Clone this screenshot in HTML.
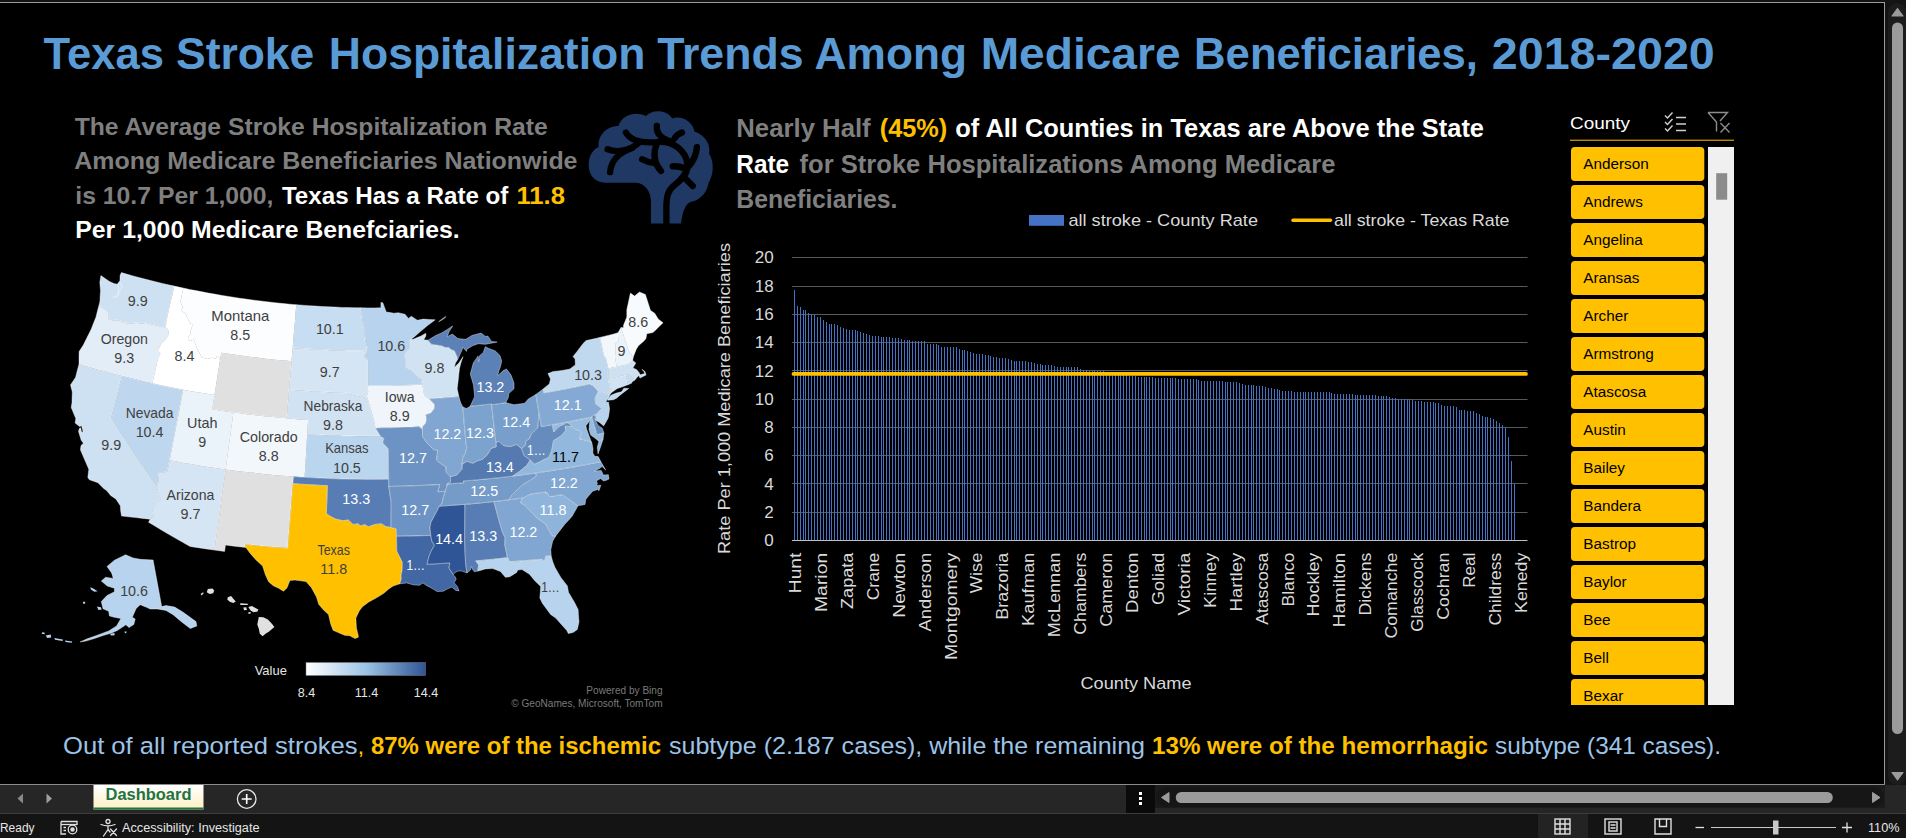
<!DOCTYPE html><html><head><meta charset="utf-8"><title>Dashboard</title><style>html,body{margin:0;padding:0;background:#000;overflow:hidden}svg{display:block}text{font-family:"Liberation Sans",sans-serif}</style></head><body><svg width="1906" height="838" viewBox="0 0 1906 838" font-family="Liberation Sans, sans-serif"><rect x="0" y="0" width="1906" height="838" fill="#000"/>
<rect x="0" y="0" width="1906" height="2" fill="#141414"/>
<rect x="0" y="2" width="1885" height="1" fill="#9a9a9a"/>
<rect x="1884" y="2" width="1" height="783" fill="#9a9a9a"/>
<rect x="1885" y="0" width="21" height="785" fill="#141414"/>
<rect x="1888" y="3" width="18" height="782" rx="9" fill="#1c1c1c"/>
<rect x="1892" y="22.5" width="11" height="711.5" rx="5.5" fill="#9b9b9b"/>
<path d="M1897.5,8.5 L1903,16 L1892,16 Z" fill="#9b9b9b" stroke="#9b9b9b" stroke-width="1.2" stroke-linejoin="round"/>
<path d="M1892,772.5 L1903,772.5 L1897.5,780 Z" fill="#9b9b9b" stroke="#9b9b9b" stroke-width="1.2" stroke-linejoin="round"/>
<rect x="0" y="785" width="1906" height="28" fill="#262626"/>
<rect x="0" y="784" width="1885" height="1" fill="#8c8c8c"/>
<rect x="0" y="813" width="1906" height="25" fill="#141414"/>
<rect x="0" y="813" width="1906" height="1" fill="#3c3c3c"/>
<path d="M17.5,798.5 L23,793.5 L23,803.5 Z" fill="#8a8a8a"/>
<path d="M52,798.5 L46.5,793.5 L46.5,803.5 Z" fill="#a0a0a0"/>
<defs><linearGradient id="tabg" x1="0" y1="0" x2="0" y2="1"><stop offset="0" stop-color="#ffffff"/><stop offset="1" stop-color="#fff0c2"/></linearGradient></defs>
<rect x="93.5" y="785" width="110" height="24.5" fill="url(#tabg)"/>
<rect x="93.5" y="807.5" width="110" height="2" fill="#217346"/>
<text x="148.5" y="800.4" font-size="16.2" fill="#217346" font-weight="bold" text-anchor="middle" textLength="86.0" lengthAdjust="spacingAndGlyphs" >Dashboard</text>
<circle cx="246.7" cy="799" r="9.3" fill="none" stroke="#e8e8e8" stroke-width="1.3"/>
<path d="M241.7,799 H251.7 M246.7,794 V804" stroke="#fff" stroke-width="1.6"/>
<rect x="1126" y="785" width="29" height="28" fill="#0a0a0a"/>
<rect x="1139" y="792" width="3" height="3" fill="#fff"/>
<rect x="1139" y="797" width="3" height="3" fill="#fff"/>
<rect x="1139" y="802" width="3" height="3" fill="#fff"/>
<rect x="1155" y="785" width="730" height="23" fill="#1b1b1b"/>
<rect x="1156" y="787" width="728" height="20" rx="10" fill="#161616"/>
<rect x="1175.8" y="792" width="657" height="11" rx="5.5" fill="#9b9b9b"/>
<path d="M1161.5,797.5 L1169,792.5 L1169,802.5 Z" fill="#9b9b9b" stroke="#9b9b9b" stroke-width="1" stroke-linejoin="round"/>
<path d="M1880,797.5 L1872.5,792.5 L1872.5,802.5 Z" fill="#9b9b9b" stroke="#9b9b9b" stroke-width="1" stroke-linejoin="round"/>
<text x="0.0" y="831.6" font-size="12.3" fill="#e6e6e6" font-weight="normal" text-anchor="start" textLength="34.5" lengthAdjust="spacingAndGlyphs" >Ready</text>
<g stroke="#e0e0e0" stroke-width="1.3" fill="none"><path d="M61,821.5 H77 V825 M61,821.5 V834 H66"/><path d="M61,824.5 H77"/><circle cx="72.5" cy="829.5" r="4.3"/><circle cx="72.5" cy="829.5" r="1.6" fill="#e0e0e0"/><path d="M63.5,827.5 H66 M63.5,830.5 H66"/></g>
<g stroke="#e0e0e0" stroke-width="1.3" fill="none" stroke-linecap="round"><circle cx="108" cy="821.5" r="2"/><path d="M101,824.5 C105,826 111,826 115,824.5 M108,826 V829.5 M108,829.5 L103.5,836 M108,829.5 L110,832"/><path d="M110.5,829 L116.5,835.5 M116.5,829 L110.5,835.5"/></g>
<text x="122.0" y="831.6" font-size="12.3" fill="#e6e6e6" font-weight="normal" text-anchor="start" textLength="137.5" lengthAdjust="spacingAndGlyphs" >Accessibility: Investigate</text>
<rect x="1538" y="814" width="50" height="24" fill="#232323"/>
<g stroke="#e0e0e0" stroke-width="1.4" fill="none"><rect x="1555" y="819" width="15" height="15"/><path d="M1560,819 V834 M1565,819 V834 M1555,824 H1570 M1555,829 H1570"/></g>
<g stroke="#e0e0e0" stroke-width="1.4" fill="none"><rect x="1605" y="819" width="16" height="15"/><rect x="1609" y="822" width="8" height="9"/><path d="M1610.5,825 H1615.5 M1610.5,828 H1615.5"/></g>
<g stroke="#e0e0e0" stroke-width="1.4" fill="none"><path d="M1655,819 H1671 V834 H1655 Z M1659.5,819 V826.5 H1666.5 V819"/></g>
<path d="M1695.5,827.5 H1704" stroke="#e0e0e0" stroke-width="1.3"/>
<path d="M1711,827.5 H1836" stroke="#c8c8c8" stroke-width="1"/>
<rect x="1773" y="820.5" width="5.5" height="14" fill="#c8c8c8"/>
<path d="M1842,827.5 H1852 M1847,822.5 V832.5" stroke="#e0e0e0" stroke-width="1.3"/>
<text x="1868.0" y="831.6" font-size="12.3" fill="#e6e6e6" font-weight="normal" text-anchor="start" textLength="31.5" lengthAdjust="spacingAndGlyphs" >110%</text>
<text x="43.5" y="69.0" font-size="44.5" fill="#5b9bd5" font-weight="bold" text-anchor="start" textLength="120.4" lengthAdjust="spacingAndGlyphs" >Texas</text>
<text x="176.0" y="69.0" font-size="44.5" fill="#5b9bd5" font-weight="bold" text-anchor="start" textLength="138.3" lengthAdjust="spacingAndGlyphs" >Stroke</text>
<text x="328.8" y="69.0" font-size="44.5" fill="#5b9bd5" font-weight="bold" text-anchor="start" textLength="316.6" lengthAdjust="spacingAndGlyphs" >Hospitalization</text>
<text x="657.2" y="69.0" font-size="44.5" fill="#5b9bd5" font-weight="bold" text-anchor="start" textLength="146.4" lengthAdjust="spacingAndGlyphs" >Trends</text>
<text x="814.6" y="69.0" font-size="44.5" fill="#5b9bd5" font-weight="bold" text-anchor="start" textLength="152.4" lengthAdjust="spacingAndGlyphs" >Among</text>
<text x="980.7" y="69.0" font-size="44.5" fill="#5b9bd5" font-weight="bold" text-anchor="start" textLength="199.9" lengthAdjust="spacingAndGlyphs" >Medicare</text>
<text x="1194.1" y="69.0" font-size="44.5" fill="#5b9bd5" font-weight="bold" text-anchor="start" textLength="283.9" lengthAdjust="spacingAndGlyphs" >Beneficiaries,</text>
<text x="1491.8" y="69.0" font-size="44.5" fill="#5b9bd5" font-weight="bold" text-anchor="start" textLength="223.0" lengthAdjust="spacingAndGlyphs" >2018-2020</text>
<text x="74.7" y="134.5" font-size="24.6" fill="#7f7f7f" font-weight="bold" text-anchor="start" textLength="473.0" lengthAdjust="spacingAndGlyphs" >The Average Stroke Hospitalization Rate</text>
<text x="74.3" y="169.4" font-size="24.6" fill="#7f7f7f" font-weight="bold" text-anchor="start" textLength="503.2" lengthAdjust="spacingAndGlyphs" >Among Medicare Beneficiaries Nationwide</text>
<text x="75.3" y="203.8" font-size="24.6" fill="#7f7f7f" font-weight="bold" text-anchor="start" textLength="198.2" lengthAdjust="spacingAndGlyphs" >is 10.7 Per 1,000,</text>
<text x="281.9" y="203.8" font-size="24.6" fill="#fff" font-weight="bold" text-anchor="start" textLength="226.5" lengthAdjust="spacingAndGlyphs" >Texas Has a Rate of</text>
<text x="516.5" y="203.8" font-size="24.6" fill="#ffc000" font-weight="bold" text-anchor="start" textLength="48.5" lengthAdjust="spacingAndGlyphs" >11.8</text>
<text x="75.3" y="238.2" font-size="24.6" fill="#fff" font-weight="bold" text-anchor="start" textLength="384.4" lengthAdjust="spacingAndGlyphs" >Per 1,000 Medicare Benefciaries.</text>
<g transform="translate(570,95) scale(0.167015)">
<path fill="#1f3864" d="M210,525 C150,525 110,480 112,415 C114,360 140,325 172,312 C165,245 215,185 290,185 C305,130 380,90 455,125 C490,85 580,85 612,140 C670,120 735,160 745,218 C800,235 845,290 833,352 C865,400 860,480 830,525 C820,590 770,635 720,640 C690,655 672,700 665,770 L485,770 L485,640 C485,580 450,528 395,525 Z"/>
<g fill="none" stroke="#000" stroke-width="38" stroke-linecap="round" stroke-linejoin="round">
<path d="M335,225 C360,270 420,290 520,282 C620,270 700,340 703,420 C706,470 670,505 625,540 C585,570 577,610 577,680 L577,790"/>
<path d="M520,185 C515,230 545,262 610,280"/>
<path d="M670,225 C650,232 635,245 625,262"/>
<path d="M225,325 C290,350 360,330 410,288"/>
<path d="M240,462 C245,400 290,345 372,318"/>
<path d="M522,285 C495,350 505,410 545,455"/>
<path d="M432,385 C455,398 480,405 508,408"/>
<path d="M760,312 C755,360 740,395 712,425"/>
<path d="M615,427 C640,425 665,430 690,440"/>
<path d="M690,500 C705,515 720,530 735,545"/>
</g></g>
<text x="736.3" y="136.7" font-size="25.2" fill="#7f7f7f" font-weight="bold" text-anchor="start" textLength="134.4" lengthAdjust="spacingAndGlyphs" >Nearly Half</text>
<text x="879.8" y="136.7" font-size="25.2" fill="#ffc000" font-weight="bold" text-anchor="start" textLength="67.5" lengthAdjust="spacingAndGlyphs" >(45%)</text>
<text x="955.3" y="136.7" font-size="25.2" fill="#fff" font-weight="bold" text-anchor="start" textLength="528.7" lengthAdjust="spacingAndGlyphs" >of All Counties in Texas are Above the State</text>
<text x="736.3" y="172.5" font-size="25.2" fill="#fff" font-weight="bold" text-anchor="start" textLength="52.9" lengthAdjust="spacingAndGlyphs" >Rate</text>
<text x="799.6" y="172.5" font-size="25.2" fill="#7f7f7f" font-weight="bold" text-anchor="start" textLength="535.9" lengthAdjust="spacingAndGlyphs" >for Stroke Hospitalizations Among Medicare</text>
<text x="736.3" y="208.3" font-size="25.2" fill="#7f7f7f" font-weight="bold" text-anchor="start" textLength="161.2" lengthAdjust="spacingAndGlyphs" >Beneficiaries.</text>
<rect x="1029" y="215" width="35" height="10.8" fill="#4472c4"/>
<text x="1068.4" y="225.8" font-size="17" fill="#d9d9d9" font-weight="normal" text-anchor="start" textLength="189.6" lengthAdjust="spacingAndGlyphs" >all stroke - County Rate</text>
<path d="M1293,220.3 H1330.5" stroke="#ffc000" stroke-width="3.4" stroke-linecap="round"/>
<text x="1334.0" y="225.8" font-size="17" fill="#d9d9d9" font-weight="normal" text-anchor="start" textLength="175.5" lengthAdjust="spacingAndGlyphs" >all stroke - Texas Rate</text>
<rect x="792" y="257" width="735.5" height="1" fill="#595959"/>
<rect x="792" y="286" width="735.5" height="1" fill="#595959"/>
<rect x="792" y="314" width="735.5" height="1" fill="#595959"/>
<rect x="792" y="342" width="735.5" height="1" fill="#595959"/>
<rect x="792" y="370" width="735.5" height="1" fill="#595959"/>
<rect x="792" y="399" width="735.5" height="1" fill="#595959"/>
<rect x="792" y="427" width="735.5" height="1" fill="#595959"/>
<rect x="792" y="455" width="735.5" height="1" fill="#595959"/>
<rect x="792" y="483" width="735.5" height="1" fill="#595959"/>
<rect x="792" y="512" width="735.5" height="1" fill="#595959"/>
<text x="773.6" y="546.3" font-size="17" fill="#d9d9d9" font-weight="normal" text-anchor="end" >0</text>
<text x="773.6" y="518.0" font-size="17" fill="#d9d9d9" font-weight="normal" text-anchor="end" >2</text>
<text x="773.6" y="489.7" font-size="17" fill="#d9d9d9" font-weight="normal" text-anchor="end" >4</text>
<text x="773.6" y="461.4" font-size="17" fill="#d9d9d9" font-weight="normal" text-anchor="end" >6</text>
<text x="773.6" y="433.1" font-size="17" fill="#d9d9d9" font-weight="normal" text-anchor="end" >8</text>
<text x="773.6" y="404.8" font-size="17" fill="#d9d9d9" font-weight="normal" text-anchor="end" >10</text>
<text x="773.6" y="376.5" font-size="17" fill="#d9d9d9" font-weight="normal" text-anchor="end" >12</text>
<text x="773.6" y="348.2" font-size="17" fill="#d9d9d9" font-weight="normal" text-anchor="end" >14</text>
<text x="773.6" y="319.9" font-size="17" fill="#d9d9d9" font-weight="normal" text-anchor="end" >16</text>
<text x="773.6" y="291.6" font-size="17" fill="#d9d9d9" font-weight="normal" text-anchor="end" >18</text>
<text x="773.6" y="263.3" font-size="17" fill="#d9d9d9" font-weight="normal" text-anchor="end" >20</text>
<path d="M794,289.9h1V540.4h-1ZM797,305.9h1V540.4h-1ZM800,306.9h1V540.4h-1ZM803,310.0h1V540.4h-1ZM805,310.0h1V540.4h-1ZM808,313.0h1V540.4h-1ZM811,314.0h1V540.4h-1ZM814,314.0h1V540.4h-1ZM817,317.1h1V540.4h-1ZM820,317.1h1V540.4h-1ZM823,320.2h1V540.4h-1ZM826,322.0h1V540.4h-1ZM829,323.5h1V540.4h-1ZM831,323.8h1V540.4h-1ZM834,324.0h1V540.4h-1ZM837,324.6h1V540.4h-1ZM840,326.5h1V540.4h-1ZM843,327.9h1V540.4h-1ZM846,329.2h1V540.4h-1ZM849,329.6h1V540.4h-1ZM852,330.0h1V540.4h-1ZM855,330.4h1V540.4h-1ZM857,331.1h1V540.4h-1ZM860,332.0h1V540.4h-1ZM863,333.0h1V540.4h-1ZM866,333.9h1V540.4h-1ZM869,334.9h1V540.4h-1ZM872,335.7h1V540.4h-1ZM875,336.0h1V540.4h-1ZM878,336.4h1V540.4h-1ZM881,336.7h1V540.4h-1ZM883,337.0h1V540.4h-1ZM886,337.2h1V540.4h-1ZM889,337.4h1V540.4h-1ZM892,337.6h1V540.4h-1ZM895,337.8h1V540.4h-1ZM898,338.0h1V540.4h-1ZM901,339.0h1V540.4h-1ZM904,340.1h1V540.4h-1ZM907,340.2h1V540.4h-1ZM909,340.3h1V540.4h-1ZM912,340.5h1V540.4h-1ZM915,340.6h1V540.4h-1ZM918,340.8h1V540.4h-1ZM921,340.9h1V540.4h-1ZM924,341.3h1V540.4h-1ZM927,343.7h1V540.4h-1ZM930,344.2h1V540.4h-1ZM933,344.2h1V540.4h-1ZM936,344.3h1V540.4h-1ZM938,345.3h1V540.4h-1ZM941,346.8h1V540.4h-1ZM944,346.9h1V540.4h-1ZM947,347.0h1V540.4h-1ZM950,347.2h1V540.4h-1ZM953,347.3h1V540.4h-1ZM956,347.4h1V540.4h-1ZM959,348.5h1V540.4h-1ZM962,349.9h1V540.4h-1ZM964,350.4h1V540.4h-1ZM967,351.0h1V540.4h-1ZM970,352.3h1V540.4h-1ZM973,353.1h1V540.4h-1ZM976,353.5h1V540.4h-1ZM979,353.8h1V540.4h-1ZM982,354.2h1V540.4h-1ZM985,354.6h1V540.4h-1ZM988,355.0h1V540.4h-1ZM990,355.8h1V540.4h-1ZM993,357.2h1V540.4h-1ZM996,357.4h1V540.4h-1ZM999,357.6h1V540.4h-1ZM1002,357.8h1V540.4h-1ZM1005,358.0h1V540.4h-1ZM1008,358.6h1V540.4h-1ZM1011,360.1h1V540.4h-1ZM1014,360.8h1V540.4h-1ZM1016,360.9h1V540.4h-1ZM1019,361.0h1V540.4h-1ZM1022,361.2h1V540.4h-1ZM1025,361.4h1V540.4h-1ZM1028,361.8h1V540.4h-1ZM1031,362.3h1V540.4h-1ZM1034,363.1h1V540.4h-1ZM1037,364.1h1V540.4h-1ZM1040,364.4h1V540.4h-1ZM1042,364.6h1V540.4h-1ZM1045,364.8h1V540.4h-1ZM1048,365.0h1V540.4h-1ZM1051,365.2h1V540.4h-1ZM1054,365.9h1V540.4h-1ZM1057,367.0h1V540.4h-1ZM1060,367.1h1V540.4h-1ZM1063,367.1h1V540.4h-1ZM1066,367.1h1V540.4h-1ZM1068,367.1h1V540.4h-1ZM1071,367.1h1V540.4h-1ZM1074,367.1h1V540.4h-1ZM1077,367.1h1V540.4h-1ZM1080,369.4h1V540.4h-1ZM1083,370.4h1V540.4h-1ZM1086,370.4h1V540.4h-1ZM1089,370.5h1V540.4h-1ZM1092,370.5h1V540.4h-1ZM1094,370.6h1V540.4h-1ZM1097,370.6h1V540.4h-1ZM1100,370.7h1V540.4h-1ZM1103,370.9h1V540.4h-1ZM1106,371.5h1V540.4h-1ZM1109,372.2h1V540.4h-1ZM1112,372.8h1V540.4h-1ZM1115,373.5h1V540.4h-1ZM1118,374.1h1V540.4h-1ZM1120,374.5h1V540.4h-1ZM1123,374.8h1V540.4h-1ZM1126,375.2h1V540.4h-1ZM1129,375.5h1V540.4h-1ZM1132,375.9h1V540.4h-1ZM1135,376.2h1V540.4h-1ZM1138,376.6h1V540.4h-1ZM1141,376.9h1V540.4h-1ZM1144,377.1h1V540.4h-1ZM1146,377.2h1V540.4h-1ZM1149,377.3h1V540.4h-1ZM1152,377.4h1V540.4h-1ZM1155,377.5h1V540.4h-1ZM1158,377.6h1V540.4h-1ZM1161,377.7h1V540.4h-1ZM1164,377.8h1V540.4h-1ZM1167,377.9h1V540.4h-1ZM1170,378.0h1V540.4h-1ZM1172,378.2h1V540.4h-1ZM1175,378.3h1V540.4h-1ZM1178,378.5h1V540.4h-1ZM1181,378.6h1V540.4h-1ZM1184,378.7h1V540.4h-1ZM1187,378.9h1V540.4h-1ZM1190,379.0h1V540.4h-1ZM1193,379.1h1V540.4h-1ZM1196,379.3h1V540.4h-1ZM1198,379.9h1V540.4h-1ZM1201,381.1h1V540.4h-1ZM1204,381.1h1V540.4h-1ZM1207,381.2h1V540.4h-1ZM1210,381.2h1V540.4h-1ZM1213,381.2h1V540.4h-1ZM1216,381.3h1V540.4h-1ZM1219,381.3h1V540.4h-1ZM1222,381.4h1V540.4h-1ZM1225,381.5h1V540.4h-1ZM1227,381.6h1V540.4h-1ZM1230,381.7h1V540.4h-1ZM1233,381.9h1V540.4h-1ZM1236,382.0h1V540.4h-1ZM1239,382.9h1V540.4h-1ZM1242,384.3h1V540.4h-1ZM1245,384.5h1V540.4h-1ZM1248,384.8h1V540.4h-1ZM1251,385.0h1V540.4h-1ZM1253,385.3h1V540.4h-1ZM1256,385.5h1V540.4h-1ZM1259,385.9h1V540.4h-1ZM1262,386.2h1V540.4h-1ZM1265,386.6h1V540.4h-1ZM1268,387.5h1V540.4h-1ZM1271,388.4h1V540.4h-1ZM1274,388.8h1V540.4h-1ZM1277,389.2h1V540.4h-1ZM1279,390.0h1V540.4h-1ZM1282,391.3h1V540.4h-1ZM1285,391.3h1V540.4h-1ZM1288,391.4h1V540.4h-1ZM1291,391.4h1V540.4h-1ZM1294,391.5h1V540.4h-1ZM1297,391.5h1V540.4h-1ZM1300,391.5h1V540.4h-1ZM1303,391.6h1V540.4h-1ZM1305,391.6h1V540.4h-1ZM1308,391.7h1V540.4h-1ZM1311,391.8h1V540.4h-1ZM1314,391.8h1V540.4h-1ZM1317,391.9h1V540.4h-1ZM1320,392.0h1V540.4h-1ZM1323,392.0h1V540.4h-1ZM1326,392.1h1V540.4h-1ZM1329,392.2h1V540.4h-1ZM1331,392.5h1V540.4h-1ZM1334,394.2h1V540.4h-1ZM1337,394.3h1V540.4h-1ZM1340,394.3h1V540.4h-1ZM1343,394.3h1V540.4h-1ZM1346,394.4h1V540.4h-1ZM1349,394.4h1V540.4h-1ZM1352,394.4h1V540.4h-1ZM1355,394.5h1V540.4h-1ZM1357,394.5h1V540.4h-1ZM1360,394.6h1V540.4h-1ZM1363,394.8h1V540.4h-1ZM1366,394.9h1V540.4h-1ZM1369,395.1h1V540.4h-1ZM1372,395.2h1V540.4h-1ZM1375,395.4h1V540.4h-1ZM1378,395.6h1V540.4h-1ZM1381,395.7h1V540.4h-1ZM1383,395.9h1V540.4h-1ZM1386,396.1h1V540.4h-1ZM1389,397.4h1V540.4h-1ZM1392,398.2h1V540.4h-1ZM1395,398.3h1V540.4h-1ZM1398,398.5h1V540.4h-1ZM1401,398.7h1V540.4h-1ZM1404,398.8h1V540.4h-1ZM1407,399.0h1V540.4h-1ZM1409,399.2h1V540.4h-1ZM1412,399.8h1V540.4h-1ZM1415,401.3h1V540.4h-1ZM1418,401.4h1V540.4h-1ZM1421,401.4h1V540.4h-1ZM1424,401.5h1V540.4h-1ZM1427,401.5h1V540.4h-1ZM1430,401.6h1V540.4h-1ZM1433,402.2h1V540.4h-1ZM1435,402.7h1V540.4h-1ZM1438,403.3h1V540.4h-1ZM1441,404.6h1V540.4h-1ZM1444,405.9h1V540.4h-1ZM1447,406.2h1V540.4h-1ZM1450,406.3h1V540.4h-1ZM1453,406.3h1V540.4h-1ZM1456,407.3h1V540.4h-1ZM1459,410.2h1V540.4h-1ZM1461,410.3h1V540.4h-1ZM1464,410.4h1V540.4h-1ZM1467,410.5h1V540.4h-1ZM1470,410.6h1V540.4h-1ZM1473,411.0h1V540.4h-1ZM1476,412.7h1V540.4h-1ZM1479,414.3h1V540.4h-1ZM1482,415.7h1V540.4h-1ZM1485,416.6h1V540.4h-1ZM1487,417.3h1V540.4h-1ZM1490,417.9h1V540.4h-1ZM1493,418.6h1V540.4h-1ZM1496,421.0h1V540.4h-1ZM1499,423.2h1V540.4h-1ZM1502,424.7h1V540.4h-1ZM1505,427.8h1V540.4h-1ZM1508,437.1h1V540.4h-1ZM1511,461.2h1V540.4h-1ZM1514,483.8h1V540.4h-1Z" fill="#4472c4" shape-rendering="crispEdges"/>
<rect x="792" y="540" width="735.5" height="1" fill="#bfbfbf"/>
<path d="M793.5,373.9 H1526" stroke="#ffc000" stroke-width="3.8" stroke-linecap="round"/>
<text transform="translate(801.0,593.2) rotate(-90)" font-size="17.3" fill="#d9d9d9" textLength="40.5" lengthAdjust="spacingAndGlyphs">Hunt</text>
<text transform="translate(826.9,612.1) rotate(-90)" font-size="17.3" fill="#d9d9d9" textLength="59.4" lengthAdjust="spacingAndGlyphs">Marion</text>
<text transform="translate(852.8,608.9) rotate(-90)" font-size="17.3" fill="#d9d9d9" textLength="56.2" lengthAdjust="spacingAndGlyphs">Zapata</text>
<text transform="translate(878.8,600.3) rotate(-90)" font-size="17.3" fill="#d9d9d9" textLength="47.6" lengthAdjust="spacingAndGlyphs">Crane</text>
<text transform="translate(904.7,617.7) rotate(-90)" font-size="17.3" fill="#d9d9d9" textLength="65.0" lengthAdjust="spacingAndGlyphs">Newton</text>
<text transform="translate(930.6,631.5) rotate(-90)" font-size="17.3" fill="#d9d9d9" textLength="78.8" lengthAdjust="spacingAndGlyphs">Anderson</text>
<text transform="translate(956.5,660.0) rotate(-90)" font-size="17.3" fill="#d9d9d9" textLength="107.3" lengthAdjust="spacingAndGlyphs">Montgomery</text>
<text transform="translate(982.4,593.2) rotate(-90)" font-size="17.3" fill="#d9d9d9" textLength="40.5" lengthAdjust="spacingAndGlyphs">Wise</text>
<text transform="translate(1008.4,619.7) rotate(-90)" font-size="17.3" fill="#d9d9d9" textLength="67.0" lengthAdjust="spacingAndGlyphs">Brazoria</text>
<text transform="translate(1034.3,626.0) rotate(-90)" font-size="17.3" fill="#d9d9d9" textLength="73.3" lengthAdjust="spacingAndGlyphs">Kaufman</text>
<text transform="translate(1060.2,637.3) rotate(-90)" font-size="17.3" fill="#d9d9d9" textLength="84.6" lengthAdjust="spacingAndGlyphs">McLennan</text>
<text transform="translate(1086.1,634.8) rotate(-90)" font-size="17.3" fill="#d9d9d9" textLength="82.1" lengthAdjust="spacingAndGlyphs">Chambers</text>
<text transform="translate(1112.0,626.7) rotate(-90)" font-size="17.3" fill="#d9d9d9" textLength="74.0" lengthAdjust="spacingAndGlyphs">Cameron</text>
<text transform="translate(1138.0,612.9) rotate(-90)" font-size="17.3" fill="#d9d9d9" textLength="60.2" lengthAdjust="spacingAndGlyphs">Denton</text>
<text transform="translate(1163.9,605.1) rotate(-90)" font-size="17.3" fill="#d9d9d9" textLength="52.4" lengthAdjust="spacingAndGlyphs">Goliad</text>
<text transform="translate(1189.8,615.4) rotate(-90)" font-size="17.3" fill="#d9d9d9" textLength="62.7" lengthAdjust="spacingAndGlyphs">Victoria</text>
<text transform="translate(1215.7,607.9) rotate(-90)" font-size="17.3" fill="#d9d9d9" textLength="55.2" lengthAdjust="spacingAndGlyphs">Kinney</text>
<text transform="translate(1241.6,611.4) rotate(-90)" font-size="17.3" fill="#d9d9d9" textLength="58.7" lengthAdjust="spacingAndGlyphs">Hartley</text>
<text transform="translate(1267.6,624.7) rotate(-90)" font-size="17.3" fill="#d9d9d9" textLength="72.0" lengthAdjust="spacingAndGlyphs">Atascosa</text>
<text transform="translate(1293.5,606.6) rotate(-90)" font-size="17.3" fill="#d9d9d9" textLength="53.9" lengthAdjust="spacingAndGlyphs">Blanco</text>
<text transform="translate(1319.4,616.4) rotate(-90)" font-size="17.3" fill="#d9d9d9" textLength="63.7" lengthAdjust="spacingAndGlyphs">Hockley</text>
<text transform="translate(1345.3,627.2) rotate(-90)" font-size="17.3" fill="#d9d9d9" textLength="74.5" lengthAdjust="spacingAndGlyphs">Hamilton</text>
<text transform="translate(1371.2,615.4) rotate(-90)" font-size="17.3" fill="#d9d9d9" textLength="62.7" lengthAdjust="spacingAndGlyphs">Dickens</text>
<text transform="translate(1397.2,638.6) rotate(-90)" font-size="17.3" fill="#d9d9d9" textLength="85.9" lengthAdjust="spacingAndGlyphs">Comanche</text>
<text transform="translate(1423.1,631.8) rotate(-90)" font-size="17.3" fill="#d9d9d9" textLength="79.1" lengthAdjust="spacingAndGlyphs">Glasscock</text>
<text transform="translate(1449.0,619.7) rotate(-90)" font-size="17.3" fill="#d9d9d9" textLength="67.0" lengthAdjust="spacingAndGlyphs">Cochran</text>
<text transform="translate(1474.9,587.7) rotate(-90)" font-size="17.3" fill="#d9d9d9" textLength="35.0" lengthAdjust="spacingAndGlyphs">Real</text>
<text transform="translate(1500.8,625.5) rotate(-90)" font-size="17.3" fill="#d9d9d9" textLength="72.8" lengthAdjust="spacingAndGlyphs">Childress</text>
<text transform="translate(1526.8,612.9) rotate(-90)" font-size="17.3" fill="#d9d9d9" textLength="60.2" lengthAdjust="spacingAndGlyphs">Kenedy</text>
<text transform="translate(729.7,398.5) rotate(-90)" font-size="17" fill="#d9d9d9" text-anchor="middle" textLength="311" lengthAdjust="spacingAndGlyphs">Rate Per 1,000 Medicare Beneficiaries</text>
<text x="1136.0" y="688.5" font-size="17" fill="#d9d9d9" font-weight="normal" text-anchor="middle" textLength="111.0" lengthAdjust="spacingAndGlyphs" >County Name</text>
<text x="1570.0" y="129.0" font-size="17" fill="#fff" font-weight="normal" text-anchor="start" textLength="60.0" lengthAdjust="spacingAndGlyphs" >County</text>
<rect x="1570" y="139.7" width="164" height="1" fill="#ffc000"/>
<g stroke="#d0d0d0" stroke-width="1.4" fill="none"><path d="M1665,115.5 l2.5,2.5 l5,-5.5 M1665,122 l2.5,2.5 l5,-5.5 M1665,128.5 l2.5,2.5 l5,-5.5"/><path d="M1676,117.5 H1686 M1676,124 H1686 M1676,130.5 H1686"/></g>
<g stroke="#8c8c8c" stroke-width="1.4" fill="none"><path d="M1708,112.5 H1727.5 L1720,121 M1708,112.5 L1716.5,122 V131.5"/><path d="M1720.5,123 L1729.5,132.5 M1729.5,123 L1720.5,132.5"/></g>
<rect x="1708" y="147" width="26" height="558" fill="#f0f0f0"/>
<rect x="1716.2" y="173.2" width="11" height="26.5" fill="#8b8b8b"/>
<clipPath id="slc"><rect x="1565" y="140" width="145" height="565"/></clipPath><g clip-path="url(#slc)">
<rect x="1571" y="147" width="133.3" height="34" rx="3.8" fill="#ffc000"/>
<text x="1583.3" y="169.0" font-size="15.3" fill="#000" font-weight="normal" text-anchor="start" >Anderson</text>
<rect x="1571" y="185" width="133.3" height="34" rx="3.8" fill="#ffc000"/>
<text x="1583.3" y="207.0" font-size="15.3" fill="#000" font-weight="normal" text-anchor="start" >Andrews</text>
<rect x="1571" y="223" width="133.3" height="34" rx="3.8" fill="#ffc000"/>
<text x="1583.3" y="245.0" font-size="15.3" fill="#000" font-weight="normal" text-anchor="start" >Angelina</text>
<rect x="1571" y="261" width="133.3" height="34" rx="3.8" fill="#ffc000"/>
<text x="1583.3" y="283.0" font-size="15.3" fill="#000" font-weight="normal" text-anchor="start" >Aransas</text>
<rect x="1571" y="299" width="133.3" height="34" rx="3.8" fill="#ffc000"/>
<text x="1583.3" y="321.0" font-size="15.3" fill="#000" font-weight="normal" text-anchor="start" >Archer</text>
<rect x="1571" y="337" width="133.3" height="34" rx="3.8" fill="#ffc000"/>
<text x="1583.3" y="359.0" font-size="15.3" fill="#000" font-weight="normal" text-anchor="start" >Armstrong</text>
<rect x="1571" y="375" width="133.3" height="34" rx="3.8" fill="#ffc000"/>
<text x="1583.3" y="397.0" font-size="15.3" fill="#000" font-weight="normal" text-anchor="start" >Atascosa</text>
<rect x="1571" y="413" width="133.3" height="34" rx="3.8" fill="#ffc000"/>
<text x="1583.3" y="435.0" font-size="15.3" fill="#000" font-weight="normal" text-anchor="start" >Austin</text>
<rect x="1571" y="451" width="133.3" height="34" rx="3.8" fill="#ffc000"/>
<text x="1583.3" y="473.0" font-size="15.3" fill="#000" font-weight="normal" text-anchor="start" >Bailey</text>
<rect x="1571" y="489" width="133.3" height="34" rx="3.8" fill="#ffc000"/>
<text x="1583.3" y="511.0" font-size="15.3" fill="#000" font-weight="normal" text-anchor="start" >Bandera</text>
<rect x="1571" y="527" width="133.3" height="34" rx="3.8" fill="#ffc000"/>
<text x="1583.3" y="549.0" font-size="15.3" fill="#000" font-weight="normal" text-anchor="start" >Bastrop</text>
<rect x="1571" y="565" width="133.3" height="34" rx="3.8" fill="#ffc000"/>
<text x="1583.3" y="587.0" font-size="15.3" fill="#000" font-weight="normal" text-anchor="start" >Baylor</text>
<rect x="1571" y="603" width="133.3" height="34" rx="3.8" fill="#ffc000"/>
<text x="1583.3" y="625.0" font-size="15.3" fill="#000" font-weight="normal" text-anchor="start" >Bee</text>
<rect x="1571" y="641" width="133.3" height="34" rx="3.8" fill="#ffc000"/>
<text x="1583.3" y="663.0" font-size="15.3" fill="#000" font-weight="normal" text-anchor="start" >Bell</text>
<rect x="1571" y="679" width="133.3" height="34" rx="3.8" fill="#ffc000"/>
<text x="1583.3" y="701.0" font-size="15.3" fill="#000" font-weight="normal" text-anchor="start" >Bexar</text>
</g>
<text x="63.0" y="754.0" font-size="24.3" fill="#9dc3e6" font-weight="normal" text-anchor="start" textLength="294.5" lengthAdjust="spacingAndGlyphs" >Out of all reported strokes</text>
<text x="357.5" y="754.0" font-size="24.3" fill="#ffc000" font-weight="normal" text-anchor="start" >,</text>
<text x="371.0" y="754.0" font-size="24.3" fill="#ffc000" font-weight="bold" text-anchor="start" textLength="290.0" lengthAdjust="spacingAndGlyphs" >87% were of the ischemic</text>
<text x="669.0" y="754.0" font-size="24.3" fill="#9dc3e6" font-weight="normal" text-anchor="start" textLength="476.0" lengthAdjust="spacingAndGlyphs" >subtype (2.187 cases), while the remaining</text>
<text x="1152.0" y="754.0" font-size="24.3" fill="#ffc000" font-weight="bold" text-anchor="start" textLength="336.0" lengthAdjust="spacingAndGlyphs" >13% were of the hemorrhagic</text>
<text x="1495.0" y="754.0" font-size="24.3" fill="#9dc3e6" font-weight="normal" text-anchor="start" textLength="226.0" lengthAdjust="spacingAndGlyphs" >subtype (341 cases).</text>
<g stroke="#ffffff" stroke-opacity="0.55" stroke-width="0.7" stroke-linejoin="round">
<path d="M98.7,306.4L100.0,301.0L100.1,296.6L100.5,290.8L99.8,282.4L100.9,275.6L105.2,278.6L109.5,281.5L113.9,283.4L117.2,284.2L119.9,280.7L120.1,275.2L121.4,272.6L127.3,274.3L133.1,275.9L139.0,277.5L144.8,279.0L150.7,280.5L156.6,282.0L162.5,283.4L168.4,284.8L174.3,286.1L172.3,295.0L170.2,303.8L168.2,312.7L166.2,321.7L166.0,327.8L159.4,326.3L152.7,324.7L146.0,323.1L142.7,323.4L136.1,323.1L130.3,323.5L124.2,322.9L120.6,320.9L116.7,319.9L113.4,320.7L108.6,319.1L108.8,315.4L108.2,311.6L105.2,309.5L102.6,307.7L98.7,306.4Z" fill="#cee1f2"/>
<path d="M98.7,306.4L102.6,307.7L105.2,309.5L108.2,311.6L108.8,315.4L108.6,319.1L113.4,320.7L116.7,319.9L120.6,320.9L124.2,322.9L130.3,323.5L136.1,323.1L142.7,323.4L146.0,323.1L152.7,324.7L159.4,326.3L166.0,327.8L169.0,331.6L168.1,335.5L165.4,339.3L161.0,344.2L157.9,350.8L160.5,353.6L158.2,357.5L156.3,366.1L154.3,374.7L152.4,383.3L146.3,381.9L140.2,380.5L134.1,379.1L128.0,377.6L121.9,376.0L115.7,374.4L109.6,372.8L103.4,371.1L97.3,369.4L91.2,367.7L85.1,365.9L79.0,364.1L79.0,357.8L79.1,351.6L83.3,345.1L87.3,337.0L91.3,328.9L93.6,322.9L96.0,316.9L97.3,311.6L98.7,306.4Z" fill="#e2edf8"/>
<path d="M79.0,364.1L78.1,367.5L76.8,372.4L75.6,377.3L70.5,384.9L72.3,392.0L72.1,397.3L72.0,402.5L71.2,407.5L75.8,418.6L75.1,422.9L79.8,426.8L81.4,425.4L82.6,429.5L83.1,432.6L81.4,431.4L80.7,427.8L79.3,428.6L78.5,431.4L81.2,440.3L83.4,443.2L81.0,445.5L80.4,449.8L85.1,460.8L88.8,469.2L87.8,477.4L89.4,479.8L93.7,481.3L97.9,482.7L103.7,488.6L106.8,490.8L110.6,495.4L115.8,498.9L120.3,505.8L120.7,511.0L121.5,515.9L128.6,516.8L135.8,517.6L143.0,518.4L150.2,519.2L153.6,515.7L152.3,509.7L156.2,502.4L161.1,498.9L159.3,495.7L157.5,489.5L157.6,487.3L151.4,478.7L145.3,470.1L139.3,461.4L133.5,452.8L127.7,444.1L122.0,435.3L116.5,426.6L111.1,417.8L113.2,409.4L115.4,401.1L117.6,392.7L119.7,384.4L121.9,376.0L115.7,374.4L109.6,372.8L103.4,371.1L97.3,369.4L91.2,367.7L85.1,365.9L79.0,364.1Z" fill="#cee1f2"/>
<path d="M121.9,376.0L128.0,377.6L134.1,379.1L140.2,380.5L146.3,381.9L152.4,383.3L158.6,384.7L164.8,386.0L170.9,387.3L177.1,388.5L183.3,389.7L181.6,398.5L179.9,407.3L178.2,416.2L176.5,425.0L174.8,433.8L173.1,442.7L171.4,451.5L169.7,460.3L168.6,466.0L167.5,471.6L163.9,472.4L159.2,472.6L158.6,480.1L157.6,487.3L151.4,478.7L145.3,470.1L139.3,461.4L133.5,452.8L127.7,444.1L122.0,435.3L116.5,426.6L111.1,417.8L113.2,409.4L115.4,401.1L117.6,392.7L119.7,384.4L121.9,376.0Z" fill="#bed7ee"/>
<path d="M174.3,286.1L178.8,287.1L183.4,288.1L181.9,295.0L180.4,301.9L182.8,307.0L181.5,310.8L185.4,313.6L187.9,318.9L190.4,323.7L193.1,323.9L190.6,330.4L190.3,334.6L188.3,336.8L187.9,338.7L189.8,340.7L193.9,339.7L195.2,343.5L197.2,349.3L198.8,351.8L201.9,357.5L207.3,359.1L212.2,357.8L215.7,358.4L217.4,355.7L220.1,360.1L218.7,368.8L217.3,377.6L215.9,386.4L214.5,395.1L208.2,394.1L202.0,393.1L195.8,392.0L189.6,390.9L183.3,389.7L177.1,388.5L170.9,387.3L164.8,386.0L158.6,384.7L152.4,383.3L154.3,374.7L156.3,366.1L158.2,357.5L160.5,353.6L157.9,350.8L161.0,344.2L165.4,339.3L168.1,335.5L169.0,331.6L166.0,327.8L166.2,321.7L168.2,312.7L170.2,303.8L172.3,295.0L174.3,286.1Z" fill="#ffffff"/>
<path d="M183.4,288.1L189.6,289.4L195.8,290.6L202.1,291.8L208.3,293.0L214.5,294.1L220.8,295.2L227.0,296.2L233.3,297.2L239.6,298.2L245.9,299.1L252.2,299.9L258.4,300.7L264.7,301.5L271.1,302.2L277.4,302.9L283.7,303.6L290.0,304.2L296.3,304.7L295.6,313.3L294.9,321.9L294.1,330.5L293.4,339.2L292.7,347.9L292.1,354.5L291.5,361.2L284.5,360.6L277.4,359.9L270.4,359.2L263.4,358.4L256.3,357.6L249.3,356.7L242.3,355.8L235.3,354.8L228.2,353.8L221.3,352.7L220.1,360.1L217.4,355.7L215.7,358.4L212.2,357.8L207.3,359.1L201.9,357.5L198.8,351.8L197.2,349.3L195.2,343.5L193.9,339.7L189.8,340.7L187.9,338.7L188.3,336.8L190.3,334.6L190.6,330.4L193.1,323.9L190.4,323.7L187.9,318.9L185.4,313.6L181.5,310.8L182.8,307.0L180.4,301.9L181.9,295.0L183.4,288.1Z" fill="#fcfdfe"/>
<path d="M291.5,361.2L284.5,360.6L277.4,359.9L270.4,359.2L263.4,358.4L256.3,357.6L249.3,356.7L242.3,355.8L235.3,354.8L228.2,353.8L221.3,352.7L221.3,352.7L220.1,360.1L218.7,368.8L217.3,377.6L215.9,386.4L214.5,395.1L213.4,402.2L212.2,409.3L219.3,410.4L226.4,411.5L233.4,412.4L240.1,413.3L246.7,414.2L253.4,415.0L260.1,415.7L266.7,416.4L273.4,417.1L280.1,417.7L286.7,418.3L287.5,408.8L288.3,399.2L289.1,389.7L289.9,380.2L290.8,370.7L291.5,361.2Z" fill="#e0e0e0"/>
<path d="M183.3,389.7L189.6,390.9L195.8,392.0L202.0,393.1L208.2,394.1L214.5,395.1L213.4,402.2L212.2,409.3L219.3,410.4L226.4,411.5L233.4,412.4L232.1,421.9L230.8,431.4L229.5,440.9L228.2,450.4L226.9,459.9L225.6,469.4L218.6,468.5L211.6,467.4L204.6,466.4L197.6,465.2L190.6,464.1L183.6,462.9L176.6,461.6L169.7,460.3L171.4,451.5L173.1,442.7L174.8,433.8L176.5,425.0L178.2,416.2L179.9,407.3L181.6,398.5Z" fill="#ebf3fa"/>
<path d="M233.4,412.4L240.1,413.3L246.7,414.2L253.4,415.0L260.1,415.7L266.7,416.4L273.4,417.1L280.1,417.7L286.7,418.3L293.9,418.9L301.0,419.4L308.1,419.9L307.7,427.0L307.2,434.2L306.7,442.8L306.2,451.5L305.7,460.1L305.1,468.7L304.6,477.3L299.2,477.0L293.8,476.6L286.2,476.0L278.6,475.4L271.0,474.7L263.4,473.9L255.8,473.1L248.3,472.3L240.7,471.4L233.1,470.4L225.6,469.4L226.9,459.9L228.2,450.4L229.5,440.9L230.8,431.4L232.1,421.9Z" fill="#f2f7fc"/>
<path d="M169.7,460.3L176.6,461.6L183.6,462.9L190.6,464.1L197.6,465.2L204.6,466.4L211.6,467.4L218.6,468.5L225.6,469.4L224.4,478.4L223.1,487.4L221.9,496.4L220.6,505.3L219.4,514.3L218.2,523.3L216.9,532.2L215.7,541.1L214.5,550.1L206.3,548.9L198.2,547.7L190.1,546.5L183.1,542.5L176.1,538.6L169.1,534.5L162.2,530.5L155.3,526.3L148.5,522.2L150.2,519.2L153.6,515.7L152.3,509.7L156.2,502.4L161.1,498.9L159.3,495.7L157.5,489.5L157.6,487.3L158.6,480.1L159.2,472.6L163.9,472.4L167.5,471.6L168.6,466.0L169.7,460.3Z" fill="#d5e5f4"/>
<path d="M225.6,469.4L233.1,470.4L240.7,471.4L248.3,472.3L255.8,473.1L263.4,473.9L271.0,474.7L278.6,475.4L286.2,476.0L293.8,476.6L292.8,483.7L292.1,492.9L291.4,502.1L290.7,511.4L289.9,520.6L289.2,529.8L288.5,538.9L287.8,548.1L280.7,547.6L273.5,547.0L266.4,546.4L259.2,545.7L252.1,545.0L244.9,544.2L245.7,547.4L238.9,546.7L232.2,545.9L225.5,545.0L224.6,551.4L219.6,550.8L214.5,550.1L215.7,541.1L216.9,532.2L218.2,523.3L219.4,514.3L220.6,505.3L221.9,496.4L223.1,487.4L224.4,478.4Z" fill="#e0e0e0"/>
<path d="M296.3,304.7L302.8,305.2L309.3,305.7L315.7,306.1L322.2,306.5L328.7,306.8L335.2,307.1L341.7,307.4L348.2,307.6L354.6,307.7L361.1,307.8L361.8,314.9L362.7,321.9L364.6,329.0L364.8,336.1L365.2,341.8L366.9,346.1L367.3,351.2L360.5,351.1L353.7,351.0L346.9,350.9L340.1,350.6L333.4,350.4L326.6,350.1L319.8,349.7L313.0,349.3L306.2,348.9L299.4,348.4L292.7,347.9L293.4,339.2L294.1,330.5L294.9,321.9L295.6,313.3L296.3,304.7Z" fill="#c7ddf1"/>
<path d="M292.7,347.9L299.4,348.4L306.2,348.9L313.0,349.3L319.8,349.7L326.6,350.1L333.4,350.4L340.1,350.6L346.9,350.9L353.7,351.0L360.5,351.1L367.3,351.2L364.4,356.0L368.4,360.3L368.3,368.9L368.3,377.4L368.3,386.0L366.9,388.9L368.3,391.7L366.7,396.0L368.2,400.5L363.0,396.7L359.4,396.4L353.1,395.1L346.9,392.9L339.7,392.7L332.4,392.4L325.2,392.1L318.0,391.7L310.8,391.3L303.6,390.8L296.4,390.3L289.1,389.7L289.9,380.2L290.8,370.7L291.5,361.2L292.1,354.5L292.7,347.9Z" fill="#d5e5f4"/>
<path d="M289.1,389.7L296.4,390.3L303.6,390.8L310.8,391.3L318.0,391.7L325.2,392.1L332.4,392.4L339.7,392.7L346.9,392.9L353.1,395.1L359.4,396.4L363.0,396.7L368.2,400.5L370.3,407.5L372.4,414.7L374.4,421.9L375.5,427.9L378.4,432.6L380.5,436.2L373.2,436.3L365.8,436.2L358.5,436.2L351.2,436.0L343.8,435.9L336.5,435.6L329.2,435.4L321.9,435.0L314.5,434.7L307.2,434.2L307.7,427.0L308.1,419.9L301.0,419.4L293.9,418.9L286.7,418.3L287.5,408.8L288.3,399.2L289.1,389.7Z" fill="#d1e3f3"/>
<path d="M307.2,434.2L314.5,434.7L321.9,435.0L329.2,435.4L336.5,435.6L343.8,435.9L351.2,436.0L358.5,436.2L365.8,436.2L373.2,436.3L380.5,436.2L383.9,438.3L382.8,442.7L388.4,448.8L388.5,456.4L388.5,464.0L388.6,471.7L388.7,479.3L381.0,479.4L373.4,479.4L365.7,479.4L358.1,479.3L350.5,479.2L342.8,479.0L335.2,478.8L327.5,478.5L319.9,478.1L312.3,477.8L304.6,477.3L305.1,468.7L305.7,460.1L306.2,451.5L306.7,442.8L307.2,434.2Z" fill="#bad5ee"/>
<path d="M293.8,476.6L301.7,477.1L309.6,477.6L317.5,478.0L325.4,478.4L333.3,478.7L341.2,479.0L349.1,479.2L357.0,479.3L364.9,479.4L372.8,479.4L380.8,479.4L388.7,479.3L388.8,486.5L390.0,494.4L391.2,502.4L391.2,510.8L391.1,519.2L391.1,527.5L386.1,526.8L381.3,523.9L375.4,524.4L368.4,526.8L364.8,524.7L360.1,526.1L358.3,523.9L353.0,524.5L348.4,520.1L342.5,520.7L335.5,519.1L329.7,516.0L326.3,513.6L326.7,504.3L327.0,495.0L327.4,485.7L320.5,485.4L313.6,485.0L306.6,484.6L299.7,484.2L292.8,483.7L293.8,476.6Z" fill="#577db4"/>
<path d="M292.8,483.7L299.7,484.2L306.6,484.6L313.6,485.0L320.5,485.4L327.4,485.7L327.0,495.0L326.7,504.3L326.3,513.6L329.7,516.0L335.5,519.1L342.5,520.7L348.4,520.1L353.0,524.5L358.3,523.9L360.1,526.1L364.8,524.7L368.4,526.8L375.4,524.4L381.3,523.9L386.1,526.8L391.1,527.5L396.3,528.7L396.5,536.3L396.7,543.6L396.8,551.0L399.6,556.6L402.4,562.3L402.3,569.4L401.2,575.2L401.4,578.7L399.9,583.8L393.1,586.0L388.8,588.9L383.8,593.3L376.9,597.6L368.8,601.9L362.4,606.8L359.2,611.0L355.9,618.1L356.4,628.0L358.3,635.8L358.3,637.2L355.0,638.6L349.8,635.7L344.6,635.3L338.2,632.6L333.1,630.3L330.7,623.9L328.5,614.6L323.6,610.1L318.7,604.2L316.5,597.0L311.3,587.5L306.0,581.5L300.5,580.8L294.9,580.1L289.9,580.5L286.9,588.1L283.5,591.2L278.7,588.3L273.3,585.7L268.6,581.7L265.5,575.0L262.6,566.1L255.8,559.7L250.3,553.4L246.2,547.9L245.7,547.4L244.9,544.2L252.1,545.0L259.2,545.7L266.4,546.4L273.5,547.0L280.7,547.6L287.8,548.1L288.5,538.9L289.2,529.8L289.9,520.6L290.7,511.4L291.4,502.1L292.1,492.9L292.8,483.7Z" fill="#ffc000"/>
<path d="M361.1,307.8L367.7,307.9L374.3,307.9L380.9,307.8L380.9,302.5L382.8,302.7L385.2,309.2L386.2,312.0L390.1,312.6L393.9,313.2L398.2,312.7L405.0,314.3L408.5,318.4L411.3,316.2L417.3,320.2L423.5,319.1L429.3,319.5L435.2,319.8L431.7,322.5L428.2,325.1L424.0,328.6L419.8,332.1L414.2,336.9L411.3,338.9L409.6,340.4L409.7,348.6L407.3,350.4L404.2,354.1L405.6,359.7L405.4,367.6L410.6,370.2L417.0,376.4L421.6,379.8L422.4,384.7L415.6,385.1L408.8,385.3L402.1,385.6L395.3,385.7L388.6,385.9L381.8,386.0L375.0,386.0L368.3,386.0L368.3,377.4L368.3,368.9L368.4,360.3L364.4,356.0L367.3,351.2L366.9,346.1L365.2,341.8L364.8,336.1L364.6,329.0L362.7,321.9L361.8,314.9L361.1,307.8Z" fill="#b7d3ed"/>
<path d="M422.4,384.7L421.6,379.8L417.0,376.4L410.6,370.2L405.4,367.6L405.6,359.7L404.2,354.1L407.3,350.4L409.7,348.6L409.6,340.4L411.3,338.9L413.3,339.2L417.2,337.6L421.0,336.0L425.8,333.2L425.9,336.0L423.7,339.7L428.0,340.2L431.4,344.2L436.4,345.0L441.4,345.7L445.6,347.5L448.6,347.3L451.8,349.9L454.3,350.4L456.8,355.9L457.7,359.4L455.5,363.1L454.3,367.5L459.0,362.8L463.0,356.7L461.0,362.6L459.5,368.5L458.9,373.6L458.4,378.7L457.8,383.7L457.2,388.8L458.9,396.6L453.0,397.1L447.0,397.6L441.1,398.0L435.1,398.4L429.2,398.7L424.7,396.1L423.5,391.9L422.4,384.7Z" fill="#d1e3f3"/>
<path d="M368.3,386.0L375.0,386.0L381.8,386.0L388.6,385.9L395.3,385.7L402.1,385.6L408.8,385.3L415.6,385.1L422.4,384.7L423.5,391.9L424.7,396.1L429.2,398.7L434.5,404.2L434.4,408.5L431.0,413.0L425.7,414.7L426.5,419.0L425.6,423.4L422.6,426.4L422.5,429.6L419.0,426.6L411.8,426.9L404.5,427.2L397.2,427.5L390.0,427.7L382.7,427.8L375.5,427.9L374.4,421.9L372.4,414.7L370.3,407.5L368.2,400.5L366.7,396.0L368.3,391.7L366.9,388.9L368.3,386.0Z" fill="#eff5fb"/>
<path d="M375.5,427.9L382.7,427.8L390.0,427.7L397.2,427.5L404.5,427.2L411.8,426.9L419.0,426.6L422.5,429.6L422.5,436.5L427.3,443.4L433.7,449.6L437.6,450.0L437.3,454.4L436.5,460.2L440.7,463.5L445.9,466.8L446.3,472.5L450.4,476.6L450.5,482.4L447.1,484.0L447.0,486.2L445.4,491.4L437.7,491.8L439.7,484.5L432.5,484.9L425.2,485.3L417.9,485.6L410.6,485.9L403.4,486.2L396.1,486.3L388.8,486.5L388.7,479.3L388.6,471.7L388.5,464.0L388.5,456.4L388.4,448.8L382.8,442.7L383.9,438.3L380.5,436.2L378.4,432.6L375.5,427.9Z" fill="#6d93c4"/>
<path d="M388.8,486.5L396.1,486.3L403.4,486.2L410.6,485.9L417.9,485.6L425.2,485.3L432.5,484.9L439.7,484.5L437.7,491.8L445.4,491.4L443.4,497.2L441.9,503.8L439.4,506.1L437.3,510.6L434.1,516.5L430.9,522.4L430.0,527.5L430.8,535.4L423.9,535.7L417.1,535.9L410.2,536.1L403.3,536.2L396.5,536.3L396.3,528.7L391.1,527.5L391.1,519.2L391.2,510.8L391.2,502.4L390.0,494.4L388.8,486.5Z" fill="#6d93c4"/>
<path d="M396.5,536.3L403.3,536.2L410.2,536.1L417.1,535.9L423.9,535.7L430.8,535.4L431.9,541.1L434.5,545.2L431.2,551.1L429.0,556.3L427.0,564.2L434.6,563.9L442.2,563.4L449.8,562.9L449.0,568.0L453.1,574.6L454.8,576.2L456.3,579.0L454.1,582.7L457.5,586.7L459.0,590.9L455.8,590.4L451.9,587.1L447.6,588.8L443.3,591.2L437.1,591.6L431.9,588.3L426.8,585.7L422.9,583.0L419.3,585.3L413.0,584.8L406.7,582.9L399.9,583.8L401.4,578.7L401.2,575.2L402.3,569.4L402.4,562.3L399.6,556.6L396.8,551.0L396.7,543.6L396.5,536.3Z" fill="#4167a4"/>
<path d="M439.4,506.1L447.5,505.6L455.6,505.0L463.7,504.4L465.0,505.7L464.9,514.4L464.8,523.0L464.7,531.7L464.6,540.3L464.9,547.5L465.2,554.6L465.5,561.8L466.2,567.3L467.0,572.9L461.9,571.1L458.2,571.0L455.2,572.6L453.1,574.6L449.0,568.0L449.8,562.9L442.2,563.4L434.6,563.9L427.0,564.2L429.0,556.3L431.2,551.1L434.5,545.2L431.9,541.1L430.8,535.4L430.0,527.5L430.9,522.4L434.1,516.5L437.3,510.6L439.4,506.1Z" fill="#2f5597"/>
<path d="M463.7,504.4L471.3,503.8L478.8,503.1L486.3,502.3L493.9,501.5L495.9,509.0L498.0,516.6L500.1,524.1L502.3,531.6L505.2,537.8L504.8,545.0L506.1,550.6L507.5,557.7L499.6,558.6L491.7,559.4L483.8,560.2L475.8,560.9L478.7,565.0L477.8,571.1L474.3,571.8L472.3,569.1L471.4,566.3L470.5,570.0L467.0,572.9L466.2,567.3L465.5,561.8L465.2,554.6L464.9,547.5L464.6,540.3L464.7,531.7L464.8,523.0L464.9,514.4L465.0,505.7L463.7,504.4Z" fill="#577db4"/>
<path d="M493.9,501.5L501.2,500.7L508.6,499.8L515.7,498.9L522.7,497.9L520.4,502.6L525.5,505.5L530.5,511.4L536.1,517.1L540.2,520.1L545.6,523.6L549.0,530.4L552.3,535.6L555.5,536.2L552.6,541.4L550.8,549.6L551.2,556.1L545.7,556.2L544.7,562.1L542.2,559.3L534.0,560.0L525.9,560.6L517.8,561.2L509.7,561.7L507.5,557.7L506.1,550.6L504.8,545.0L505.2,537.8L502.3,531.6L500.1,524.1L498.0,516.6L495.9,509.0L493.9,501.5Z" fill="#80a6d1"/>
<path d="M507.5,557.7L509.7,561.7L517.8,561.2L525.9,560.6L534.0,560.0L542.2,559.3L544.7,562.1L545.7,556.2L551.2,556.1L552.7,561.6L554.8,567.1L557.9,572.4L561.0,577.7L567.4,586.0L568.5,592.3L571.6,597.5L574.7,602.8L578.1,609.4L578.5,615.7L579.0,622.1L577.3,629.5L573.1,632.4L568.3,633.6L566.8,630.5L561.2,624.3L555.7,618.0L550.6,614.4L547.3,609.9L542.5,603.4L539.8,598.1L540.3,592.3L540.7,586.5L534.8,580.8L529.5,574.3L522.0,569.6L517.7,570.1L516.7,572.4L509.8,576.8L505.4,577.3L500.4,571.4L492.7,568.6L485.2,568.9L480.4,570.5L477.8,571.1L478.7,565.0L475.8,560.9L483.8,560.2L491.7,559.4L499.6,558.6L507.5,557.7Z" fill="#b7d3ed"/>
<path d="M522.7,497.9L530.4,494.0L538.1,493.0L545.9,491.9L546.2,493.7L547.5,492.8L549.6,496.6L556.1,495.6L562.7,494.7L570.3,500.2L578.0,505.8L572.1,516.3L568.6,520.2L565.0,524.1L559.0,531.7L555.5,536.2L552.3,535.6L549.0,530.4L545.6,523.6L540.2,520.1L536.1,517.1L530.5,511.4L525.5,505.5L520.4,502.6L522.7,497.9Z" fill="#8eb4db"/>
<path d="M600.8,461.6L593.6,463.1L586.4,464.5L579.2,465.9L571.9,467.2L564.7,468.4L557.4,469.6L550.1,470.8L542.9,471.9L535.6,473.0L535.9,476.4L532.2,478.8L528.5,481.2L523.1,484.1L517.0,490.0L511.8,495.0L508.6,499.8L515.7,498.9L522.7,497.9L530.4,494.0L538.1,493.0L545.9,491.9L546.2,493.7L547.5,492.8L549.6,496.6L556.1,495.6L562.7,494.7L570.3,500.2L578.0,505.8L585.0,504.5L585.8,499.2L589.2,495.2L592.6,491.3L597.6,489.5L599.0,490.7L600.8,485.2L596.1,485.4L597.5,483.6L596.4,480.9L600.6,478.6L603.5,480.9L606.3,480.3L609.0,479.0L608.4,474.7L603.4,475.1L601.2,470.4L594.3,471.1L599.6,468.5L602.1,466.5L605.8,470.1L600.8,461.6Z" fill="#80a6d1"/>
<path d="M513.0,476.0L520.6,475.1L528.1,474.0L535.6,473.0L535.9,476.4L532.2,478.8L528.5,481.2L523.1,484.1L517.0,490.0L511.8,495.0L508.6,499.8L501.2,500.7L493.9,501.5L486.3,502.3L478.8,503.1L471.3,503.8L463.7,504.4L455.6,505.0L447.5,505.6L439.4,506.1L441.9,503.8L443.4,497.2L445.4,491.4L447.0,486.2L447.1,484.0L452.6,483.6L458.1,483.2L463.6,482.8L463.3,480.9L470.4,480.4L477.5,479.8L484.6,479.1L491.7,478.4L498.8,477.7L505.9,476.9L513.0,476.0Z" fill="#759bc9"/>
<path d="M447.1,484.0L450.5,482.4L450.4,476.6L456.7,475.0L461.9,469.2L462.0,464.1L467.2,461.2L472.7,463.2L478.0,460.5L482.4,459.3L487.0,455.2L491.2,448.2L496.1,446.9L495.8,441.9L499.3,441.5L503.2,445.4L510.0,446.7L516.4,444.4L521.5,448.4L524.2,455.6L530.3,460.0L526.8,465.4L523.1,468.5L519.4,471.5L513.0,476.0L505.9,476.9L498.8,477.7L491.7,478.4L484.6,479.1L477.5,479.8L470.4,480.4L463.3,480.9L463.6,482.8L458.1,483.2L452.6,483.6L447.1,484.0Z" fill="#547ab1"/>
<path d="M429.2,398.7L435.1,398.4L441.1,398.0L447.0,397.6L453.0,397.1L458.9,396.6L460.5,402.2L462.8,406.9L463.6,415.5L464.3,424.2L465.1,432.8L465.8,441.4L466.8,447.8L465.1,453.8L462.7,458.3L462.0,464.1L461.9,469.2L456.7,475.0L450.4,476.6L446.3,472.5L445.9,466.8L440.7,463.5L436.5,460.2L437.3,454.4L437.6,450.0L433.7,449.6L427.3,443.4L422.5,436.5L422.5,429.6L422.6,426.4L425.6,423.4L426.5,419.0L425.7,414.7L431.0,413.0L434.4,408.5L434.5,404.2L429.2,398.7Z" fill="#80a6d1"/>
<path d="M462.0,464.1L462.7,458.3L465.1,453.8L466.8,447.8L465.8,441.4L465.1,432.8L464.3,424.2L463.6,415.5L462.8,406.9L466.4,408.6L470.2,406.2L477.3,405.5L484.4,404.7L491.5,403.9L491.6,404.8L492.7,414.1L493.7,423.3L494.8,432.6L495.8,441.9L496.1,446.9L491.2,448.2L487.0,455.2L482.4,459.3L478.0,460.5L472.7,463.2L467.2,461.2L462.0,464.1Z" fill="#7ca2ce"/>
<path d="M495.8,441.9L494.8,432.6L493.7,423.3L492.7,414.1L491.6,404.8L498.7,403.7L505.8,402.6L509.9,403.7L514.1,404.8L517.8,404.2L521.5,403.7L524.7,403.2L528.3,399.0L532.1,396.7L535.9,394.5L537.5,403.9L539.1,413.4L538.6,417.0L538.3,422.9L537.7,428.1L532.5,432.6L531.0,434.7L529.3,438.9L525.6,441.7L525.7,445.2L521.5,448.4L516.4,444.4L510.0,446.7L503.2,445.4L499.3,441.5L495.8,441.9Z" fill="#789ecc"/>
<path d="M470.2,406.2L477.3,405.5L484.4,404.7L491.5,403.9L491.6,404.8L498.7,403.7L505.8,402.6L508.3,397.6L508.8,393.5L514.0,388.8L514.0,383.0L510.9,374.8L506.4,368.9L503.0,370.8L497.5,375.9L498.9,370.7L500.4,366.8L501.7,360.9L499.9,355.4L495.3,351.0L488.3,348.2L485.3,346.7L483.3,352.4L479.6,355.7L478.7,361.6L478.1,355.9L473.3,362.9L471.8,368.4L470.3,373.9L471.9,379.5L473.5,385.1L474.1,390.8L474.7,396.5L470.2,406.2Z" fill="#5b81b7"/>
<path d="M457.7,359.4L456.8,355.9L454.3,350.4L451.8,349.9L448.6,347.3L445.6,347.5L441.4,345.7L436.4,345.0L431.4,344.2L428.0,340.2L431.9,337.8L435.8,335.4L442.0,332.8L447.3,329.4L452.7,326.0L449.2,331.5L447.2,336.7L452.4,334.1L457.8,338.6L461.8,339.0L465.8,339.3L471.9,335.5L476.4,334.3L481.0,333.1L485.4,336.4L487.8,336.1L491.5,341.4L497.1,342.1L491.2,343.2L485.3,344.3L481.8,344.0L478.2,343.7L472.5,345.8L466.8,349.2L466.5,351.4L463.1,347.4L462.1,349.7L460.2,354.1L457.7,359.4Z" fill="#5b81b7"/>
<path d="M438.7,321.7L441.4,319.4L445.6,316.5L445.2,317.7L442.0,320.0Z" fill="#5b81b7"/>
<path d="M530.3,460.0L524.2,455.6L521.5,448.4L525.7,445.2L525.6,441.7L529.3,438.9L531.0,434.7L532.5,432.6L537.7,428.1L538.3,422.9L538.6,417.0L539.1,413.4L540.2,420.0L541.3,426.5L546.9,425.6L552.5,424.6L553.7,432.0L557.8,427.6L560.2,425.7L563.8,424.3L566.5,422.3L568.7,423.4L572.5,426.7L565.3,426.2L565.6,430.8L561.3,435.7L557.4,438.3L553.4,440.8L553.2,443.0L551.7,450.6L548.9,457.6L543.1,460.0L539.4,462.1L534.3,464.3L530.3,460.0Z" fill="#668cbe"/>
<path d="M513.0,476.0L519.4,471.5L523.1,468.5L526.8,465.4L530.3,460.0L534.3,464.3L539.4,462.1L543.1,460.0L548.9,457.6L551.7,450.6L553.2,443.0L553.4,440.8L557.4,438.3L561.3,435.7L565.6,430.8L565.3,426.2L572.5,426.7L575.4,429.4L580.0,430.7L581.4,432.6L579.6,438.8L583.2,439.6L587.4,440.9L591.7,442.2L593.0,448.6L592.8,453.0L594.7,456.3L598.2,456.6L600.8,461.6L593.6,463.1L586.4,464.5L579.2,465.9L571.9,467.2L564.7,468.4L557.4,469.6L550.1,470.8L542.9,471.9L535.6,473.0L528.1,474.0L520.6,475.1L513.0,476.0Z" fill="#92b8de"/>
<path d="M598.9,441.4L597.3,446.9L598.0,453.9L600.3,447.7L603.1,439.3Z" fill="#92b8de"/>
<path d="M552.5,424.6L559.1,423.4L565.7,422.2L572.3,420.9L578.8,419.6L585.4,418.3L592.0,416.9L592.0,416.9L590.3,419.7L588.6,422.3L585.9,425.8L586.7,429.3L589.4,436.8L591.2,441.6L591.7,442.2L587.4,440.9L583.2,439.6L579.6,438.8L581.4,432.6L580.0,430.7L575.4,429.4L572.5,426.7L568.7,423.4L566.5,422.3L563.8,424.3L560.2,425.7L557.8,427.6L553.7,432.0L552.5,424.6Z" fill="#96bce1"/>
<path d="M590.3,419.7L589.4,423.6L589.0,429.6L590.7,435.1L595.5,438.5L598.9,441.4L603.1,439.3L603.9,433.0L596.9,434.5L594.4,425.7L592.0,416.9L590.3,419.7Z" fill="#96bce1"/>
<path d="M592.0,416.9L593.7,414.9L595.7,414.9L594.7,418.0L596.4,422.1L598.2,425.4L602.3,428.2L603.9,433.0L596.9,434.5L594.4,425.7L592.0,416.9Z" fill="#668cbe"/>
<path d="M535.9,394.5L539.5,391.7L543.1,389.0L543.8,392.8L550.3,391.7L556.9,390.5L563.4,389.3L569.9,388.0L576.4,386.7L582.9,385.3L589.4,383.9L592.6,385.4L598.3,391.3L595.1,398.1L595.7,403.8L601.7,408.4L598.3,412.1L595.7,414.9L593.7,414.9L592.0,416.9L585.4,418.3L578.8,419.6L572.3,420.9L565.7,422.2L559.1,423.4L552.5,424.6L546.9,425.6L541.3,426.5L540.2,420.0L539.1,413.4L537.5,403.9L535.9,394.5Z" fill="#83a9d4"/>
<path d="M598.3,391.3L603.1,392.9L607.8,394.4L607.5,398.9L605.8,402.3L608.5,402.1L609.6,408.8L608.6,416.4L607.8,418.8L603.7,425.9L599.9,422.8L595.4,420.1L595.7,414.9L598.3,412.1L601.7,408.4L595.7,403.8L595.1,398.1L598.3,391.3Z" fill="#b7d3ed"/>
<path d="M543.1,389.0L549.3,383.9L550.5,379.0L547.9,373.6L553.3,371.5L558.5,370.9L563.7,370.2L569.8,369.0L575.3,364.9L575.1,359.1L573.0,356.6L577.1,351.4L580.1,347.4L583.1,343.5L586.1,340.6L590.7,339.6L595.3,338.5L599.9,337.4L601.6,344.3L602.8,350.3L604.0,356.2L605.8,357.3L607.1,362.9L608.4,368.4L608.4,373.6L608.4,378.8L609.4,384.1L610.5,389.4L609.4,392.6L610.4,393.8L609.0,397.1L607.6,398.9L607.8,394.4L603.1,392.9L598.3,391.3L592.6,385.4L589.4,383.9L582.9,385.3L576.4,386.7L569.9,388.0L563.4,389.3L556.9,390.5L550.3,391.7L543.8,392.8L543.1,389.0Z" fill="#c1d9ef"/>
<path d="M607.8,400.3L613.5,399.7L616.5,398.2L619.7,395.6L622.9,392.9L628.8,388.5L623.9,388.2L621.5,391.8L616.3,393.1L611.3,395.1L609.5,397.0L607.8,398.9Z" fill="#c1d9ef"/>
<path d="M608.4,378.8L614.3,377.4L620.1,376.1L625.9,374.7L626.9,379.7L627.9,384.7L622.5,386.8L617.4,388.4L612.7,391.8L610.4,393.8L609.4,392.6L610.5,389.4L609.4,384.1L608.4,378.8Z" fill="#d1e3f3"/>
<path d="M625.9,374.7L630.3,374.0L632.1,377.2L634.7,380.2L632.2,381.7L631.5,383.3L627.9,384.7L626.9,379.7L625.9,374.7Z" fill="#c4dbf0"/>
<path d="M608.4,378.8L608.4,373.6L608.4,368.4L612.5,367.6L616.7,366.7L622.6,365.4L628.5,364.1L632.7,360.4L635.8,362.9L632.9,368.1L636.5,369.4L639.0,372.4L640.2,374.7L644.8,373.5L643.0,369.8L641.9,369.8L645.0,371.5L646.1,374.9L640.0,378.1L638.7,375.4L634.7,380.2L632.1,377.2L630.3,374.0L625.9,374.7L620.1,376.1L614.3,377.4L608.4,378.8Z" fill="#cee1f2"/>
<path d="M599.9,337.4L606.0,335.9L612.0,334.4L618.0,332.8L618.0,336.5L618.3,341.6L615.2,343.9L615.6,349.7L614.9,357.2L616.7,366.7L612.5,367.6L608.4,368.4L607.1,362.9L605.8,357.3L604.0,356.2L602.8,350.3L601.6,344.3L599.9,337.4Z" fill="#f2f7fc"/>
<path d="M618.0,332.8L621.0,327.6L623.5,335.3L626.0,343.0L628.5,350.7L633.2,357.3L632.7,360.4L628.5,364.1L622.6,365.4L616.7,366.7L614.9,357.2L615.6,349.7L615.2,343.9L618.3,341.6L618.0,336.5L618.0,332.8Z" fill="#ebf3fa"/>
<path d="M621.0,327.6L623.4,327.7L623.4,325.5L626.8,317.1L626.8,309.8L628.6,301.4L630.4,293.1L634.6,296.0L639.5,292.0L645.4,294.4L647.9,302.3L650.4,310.3L654.9,313.4L658.2,319.0L663.1,322.8L658.6,327.1L655.8,329.9L652.9,332.6L646.8,333.7L646.0,338.4L643.7,341.3L638.5,345.7L636.3,349.3L633.2,357.3L628.5,350.7L626.0,343.0L623.5,335.3L621.0,327.6Z" fill="#f8fbfd"/>
<path d="M125.6,554.7L133.1,557.9L140.2,559.3L153.1,560.0L161.7,606.6L166.0,605.6L174.6,607.0L183.2,612.3L196.0,621.6L196.8,625.9L190.3,628.5L181.7,621.9L173.1,614.7L166.0,610.4L157.4,609.0L150.2,609.0L145.9,607.0L140.2,604.7L136.2,608.4L132.3,617.3L135.2,619.0L133.8,624.5L129.0,627.6L125.9,624.8L117.3,630.5L111.6,633.1L103.0,635.6L94.4,638.5L85.8,641.1L80.1,641.9L87.2,638.8L97.3,635.2L108.7,630.9L116.6,625.9L120.9,618.5L114.4,617.3L109.4,615.9L108.7,611.2L103.0,608.7L101.3,601.6L107.0,595.5L114.4,591.8L114.4,588.2L107.3,586.1L101.3,581.1L105.6,577.2L113.3,578.4L111.6,572.9L107.0,566.5L114.4,560.3Z" fill="#b7d3ed"/>
<path d="M90.4,587.2L93.7,588.7L97.6,591.3L94.4,591.8L90.8,589.4Z" fill="#b7d3ed" stroke="none"/>
<path d="M97.0,606.6L100.8,607.3L101.8,609.4L98.4,609.9Z" fill="#b7d3ed" stroke="none"/>
<path d="M45.7,635.6L50.7,634.5L51.2,637.4L47.2,638.1Z" fill="#b7d3ed" stroke="none"/>
<path d="M54.3,638.1L62.9,639.5L62.6,640.9L55.0,639.8Z" fill="#b7d3ed" stroke="none"/>
<path d="M65.1,640.6L72.2,641.4L71.8,642.8L65.5,641.9Z" fill="#b7d3ed" stroke="none"/>
<path d="M42.1,632.3L45.0,632.8L44.3,634.2L41.7,633.8Z" fill="#b7d3ed" stroke="none"/>
<path d="M82.9,601.8L85.1,601.8L85.1,603.7L83.2,603.7Z" fill="#b7d3ed" stroke="none"/>
<path d="M124.5,631.6L126.6,631.6L126.2,633.3L124.8,633.1Z" fill="#b7d3ed" stroke="none"/>
<path d="M110.2,633.8L114.4,633.1L114.7,635.2L110.9,635.6Z" fill="#b7d3ed" stroke="none"/>
<path d="M207.8,589.0L212.5,588.4L214.2,590.4L213.2,593.3L209.6,594.1L206.8,592.3Z" fill="#e0e0e0" stroke="none"/>
<path d="M200.6,594.1L203.2,592.3L203.6,593.3L201.5,595.5Z" fill="#e0e0e0" stroke="none"/>
<path d="M227.8,597.3L231.1,596.1L233.3,598.7L235.8,601.6L233.3,603.0L229.7,601.8L227.3,599.4Z" fill="#e0e0e0" stroke="none"/>
<path d="M240.1,603.3L247.6,603.7L247.9,605.1L240.4,605.1Z" fill="#e0e0e0" stroke="none"/>
<path d="M243.3,607.6L246.2,607.3L246.9,609.9L244.0,610.2Z" fill="#e0e0e0" stroke="none"/>
<path d="M248.3,607.0L251.9,606.1L258.3,609.4L257.6,611.6L253.3,612.3L250.5,610.2Z" fill="#e0e0e0" stroke="none"/>
<path d="M248.3,612.3L250.7,611.9L250.5,613.7L248.4,613.7Z" fill="#e0e0e0" stroke="none"/>
<path d="M258.8,617.0L263.3,617.3L267.9,619.5L271.9,623.8L274.4,627.0L269.1,631.6L265.5,633.8L262.6,636.2L259.8,633.8L258.8,628.8L257.3,624.5Z" fill="#e0e0e0" stroke="none"/>
</g>
<path d="M117.7,284.3L118.6,288.0L118.0,293.7L114.7,296.4L113.3,297.5L117.7,296.5L119.7,291.2L121.8,287.4L120.6,282.7L118.7,284.3" fill="none" stroke="#fff" stroke-opacity="0.75" stroke-width="0.6"/>
<text x="137.7" y="305.8" font-size="14.3" fill="#404040" font-weight="normal" text-anchor="middle" >9.9</text>
<text x="124.3" y="343.6" font-size="14.3" fill="#404040" font-weight="normal" text-anchor="middle" textLength="47.2" lengthAdjust="spacingAndGlyphs" >Oregon</text>
<text x="124.3" y="362.7" font-size="14.3" fill="#404040" font-weight="normal" text-anchor="middle" >9.3</text>
<text x="184.5" y="361.0" font-size="14.3" fill="#404040" font-weight="normal" text-anchor="middle" >8.4</text>
<text x="240.3" y="321.1" font-size="14.3" fill="#404040" font-weight="normal" text-anchor="middle" textLength="58.0" lengthAdjust="spacingAndGlyphs" >Montana</text>
<text x="240.3" y="340.2" font-size="14.3" fill="#404040" font-weight="normal" text-anchor="middle" >8.5</text>
<text x="329.8" y="333.7" font-size="14.3" fill="#404040" font-weight="normal" text-anchor="middle" >10.1</text>
<text x="329.8" y="376.7" font-size="14.3" fill="#404040" font-weight="normal" text-anchor="middle" >9.7</text>
<text x="391.3" y="350.8" font-size="14.3" fill="#404040" font-weight="normal" text-anchor="middle" >10.6</text>
<text x="434.4" y="372.7" font-size="14.3" fill="#404040" font-weight="normal" text-anchor="middle" >9.8</text>
<text x="490.4" y="391.7" font-size="14.3" fill="#fff" font-weight="normal" text-anchor="middle" >13.2</text>
<text x="638.2" y="326.7" font-size="14.3" fill="#404040" font-weight="normal" text-anchor="middle" >8.6</text>
<text x="621.5" y="356.3" font-size="14.3" fill="#404040" font-weight="normal" text-anchor="middle" >9</text>
<text x="588.1" y="379.7" font-size="14.3" fill="#404040" font-weight="normal" text-anchor="middle" >10.3</text>
<text x="149.6" y="417.8" font-size="14.3" fill="#404040" font-weight="normal" text-anchor="middle" textLength="47.8" lengthAdjust="spacingAndGlyphs" >Nevada</text>
<text x="149.6" y="436.8" font-size="14.3" fill="#404040" font-weight="normal" text-anchor="middle" >10.4</text>
<text x="111.3" y="449.6" font-size="14.3" fill="#404040" font-weight="normal" text-anchor="middle" >9.9</text>
<text x="202.2" y="428.2" font-size="14.3" fill="#404040" font-weight="normal" text-anchor="middle" textLength="30.4" lengthAdjust="spacingAndGlyphs" >Utah</text>
<text x="202.2" y="447.3" font-size="14.3" fill="#404040" font-weight="normal" text-anchor="middle" >9</text>
<text x="268.7" y="441.8" font-size="14.3" fill="#404040" font-weight="normal" text-anchor="middle" textLength="58.0" lengthAdjust="spacingAndGlyphs" >Colorado</text>
<text x="268.7" y="460.8" font-size="14.3" fill="#404040" font-weight="normal" text-anchor="middle" >8.8</text>
<text x="333.0" y="410.8" font-size="14.3" fill="#404040" font-weight="normal" text-anchor="middle" textLength="58.8" lengthAdjust="spacingAndGlyphs" >Nebraska</text>
<text x="333.0" y="429.8" font-size="14.3" fill="#404040" font-weight="normal" text-anchor="middle" >9.8</text>
<text x="346.9" y="453.4" font-size="14.3" fill="#404040" font-weight="normal" text-anchor="middle" textLength="43.5" lengthAdjust="spacingAndGlyphs" >Kansas</text>
<text x="346.9" y="472.5" font-size="14.3" fill="#404040" font-weight="normal" text-anchor="middle" >10.5</text>
<text x="190.5" y="499.6" font-size="14.3" fill="#404040" font-weight="normal" text-anchor="middle" textLength="47.8" lengthAdjust="spacingAndGlyphs" >Arizona</text>
<text x="190.5" y="518.7" font-size="14.3" fill="#404040" font-weight="normal" text-anchor="middle" >9.7</text>
<text x="356.2" y="504.4" font-size="14.3" fill="#fff" font-weight="normal" text-anchor="middle" >13.3</text>
<text x="399.7" y="401.8" font-size="14.3" fill="#404040" font-weight="normal" text-anchor="middle" textLength="29.9" lengthAdjust="spacingAndGlyphs" >Iowa</text>
<text x="399.7" y="420.9" font-size="14.3" fill="#404040" font-weight="normal" text-anchor="middle" >8.9</text>
<text x="447.4" y="438.7" font-size="14.3" fill="#fff" font-weight="normal" text-anchor="middle" >12.2</text>
<text x="480.0" y="437.9" font-size="14.3" fill="#fff" font-weight="normal" text-anchor="middle" >12.3</text>
<text x="516.2" y="426.5" font-size="14.3" fill="#fff" font-weight="normal" text-anchor="middle" >12.4</text>
<text x="567.7" y="409.8" font-size="14.3" fill="#fff" font-weight="normal" text-anchor="middle" >12.1</text>
<text x="413.0" y="463.4" font-size="14.3" fill="#fff" font-weight="normal" text-anchor="middle" >12.7</text>
<text x="499.9" y="471.8" font-size="14.3" fill="#fff" font-weight="normal" text-anchor="middle" >13.4</text>
<text x="536.3" y="455.4" font-size="14.3" fill="#fff" font-weight="normal" text-anchor="middle" textLength="18.6" lengthAdjust="spacingAndGlyphs" >1…</text>
<text x="565.5" y="461.6" font-size="14.3" fill="#000" font-weight="normal" text-anchor="middle" >11.7</text>
<text x="563.9" y="488.3" font-size="14.3" fill="#fff" font-weight="normal" text-anchor="middle" >12.2</text>
<text x="484.2" y="495.8" font-size="14.3" fill="#fff" font-weight="normal" text-anchor="middle" >12.5</text>
<text x="415.2" y="514.7" font-size="14.3" fill="#fff" font-weight="normal" text-anchor="middle" >12.7</text>
<text x="553.0" y="514.7" font-size="14.3" fill="#fff" font-weight="normal" text-anchor="middle" >11.8</text>
<text x="449.1" y="543.7" font-size="14.3" fill="#fff" font-weight="normal" text-anchor="middle" >14.4</text>
<text x="483.2" y="540.7" font-size="14.3" fill="#fff" font-weight="normal" text-anchor="middle" >13.3</text>
<text x="523.4" y="537.3" font-size="14.3" fill="#fff" font-weight="normal" text-anchor="middle" >12.2</text>
<text x="415.7" y="569.9" font-size="14.3" fill="#fff" font-weight="normal" text-anchor="middle" textLength="18.6" lengthAdjust="spacingAndGlyphs" >1…</text>
<text x="550.5" y="592.1" font-size="14.3" fill="#404040" font-weight="normal" text-anchor="middle" textLength="18.6" lengthAdjust="spacingAndGlyphs" >1…</text>
<text x="333.7" y="554.6" font-size="14.3" fill="#404040" font-weight="normal" text-anchor="middle" textLength="32.4" lengthAdjust="spacingAndGlyphs" >Texas</text>
<text x="333.7" y="573.7" font-size="14.3" fill="#404040" font-weight="normal" text-anchor="middle" >11.8</text>
<text x="134.1" y="595.7" font-size="14.3" fill="#404040" font-weight="normal" text-anchor="middle" >10.6</text>
<defs><linearGradient id="lg" x1="0" y1="0" x2="1" y2="0"><stop offset="0" stop-color="#fff"/><stop offset="0.5" stop-color="#9dc3e6"/><stop offset="1" stop-color="#2f5597"/></linearGradient></defs>
<rect x="306" y="662.5" width="119.5" height="13" fill="url(#lg)" stroke="#7f7f7f" stroke-width="0.5"/>
<text x="254.7" y="674.8" font-size="12.6" fill="#e6e6e6" font-weight="normal" text-anchor="start" textLength="32.2" lengthAdjust="spacingAndGlyphs" >Value</text>
<text x="306.6" y="697.3" font-size="12.6" fill="#e6e6e6" font-weight="normal" text-anchor="middle" >8.4</text>
<text x="366.5" y="697.3" font-size="12.6" fill="#e6e6e6" font-weight="normal" text-anchor="middle" >11.4</text>
<text x="426.1" y="697.3" font-size="12.6" fill="#e6e6e6" font-weight="normal" text-anchor="middle" >14.4</text>
<text x="662.6" y="693.5" font-size="10.1" fill="#7a7a7a" font-weight="normal" text-anchor="end" >Powered by Bing</text>
<text x="662.6" y="706.7" font-size="10.1" fill="#7a7a7a" font-weight="normal" text-anchor="end" >© GeoNames, Microsoft, TomTom</text></svg></body></html>
